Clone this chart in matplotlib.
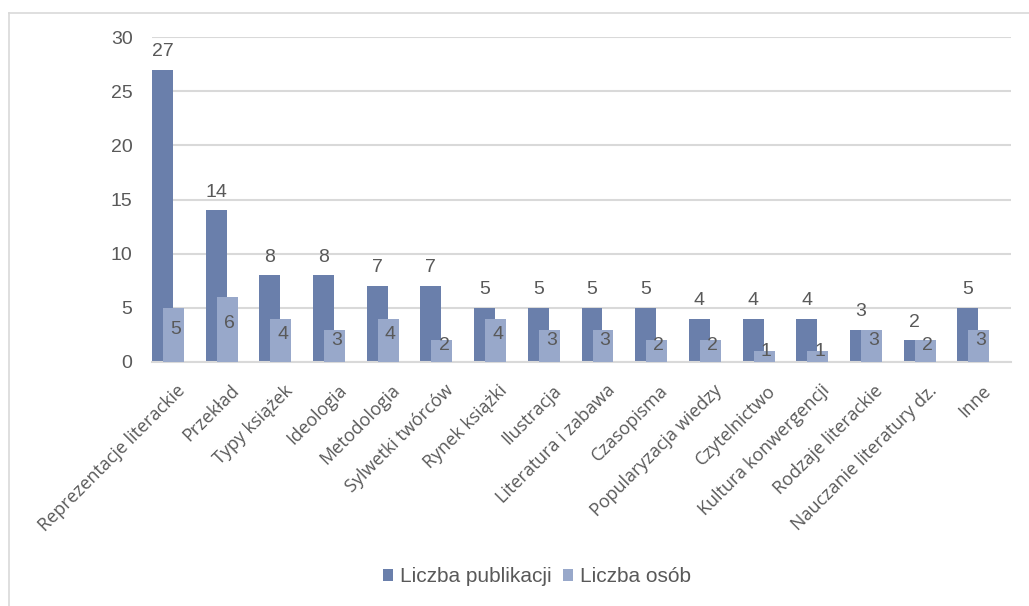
import matplotlib.pyplot as plt
import numpy as np
from matplotlib.lines import Line2D

categories = ['Reprezentacje literackie', 'Przekład', 'Typy książek', 'Ideologia',
              'Metodologia', 'Sylwetki twórców', 'Rynek książki', 'Ilustracja',
              'Literatura i zabawa', 'Czasopisma', 'Popularyzacja wiedzy',
              'Czytelnictwo', 'Kultura konwergencji', 'Rodzaje literackie',
              'Nauczanie literatury dz.', 'Inne']
publikacje = [27, 14, 8, 8, 7, 7, 5, 5, 5, 5, 4, 4, 4, 3, 2, 5]
osoby = [5, 6, 4, 3, 4, 2, 4, 3, 3, 2, 2, 1, 1, 3, 2, 3]

dark = '#6a7fab'
light = '#98a8ca'
txt = '#595959'

fig = plt.figure(figsize=(10.29, 6.06), dpi=100)
ax = fig.add_axes([152 / 1029, 244 / 606, 859 / 1029, 325 / 606])

x = np.arange(len(categories))
w = 0.39
ax.bar(x, publikacje, width=w, align='edge', color=dark, zorder=2,
       label='Liczba publikacji')
ax.bar(x + 0.205, osoby, width=w, align='edge', color=light, zorder=3,
       label='Liczba osób')

# etykiety wartości
for xi, v in zip(x, publikacje):
    ax.annotate(str(v), (xi + w / 2, v), xytext=(0, 7), textcoords='offset points',
                ha='center', va='bottom', fontsize=14, color=txt,
                family='Liberation Sans')
for xi, v in zip(x, osoby):
    ax.annotate(str(v), (xi + 0.205 + w, v / 2), xytext=(-6, 4),
                textcoords='offset points', ha='center', va='center',
                fontsize=14, color=txt, family='Liberation Sans', zorder=4)

ax.set_xlim(0, len(categories))
ax.set_ylim(0, 30)
ax.set_yticks(range(0, 31, 5))
ax.yaxis.grid(True, color='#d9d9d9', linewidth=1.5, zorder=0)
ax.set_axisbelow(True)
for s in ['top', 'right', 'left']:
    ax.spines[s].set_visible(False)
ax.spines['bottom'].set_color('#d9d9d9')
ax.spines['bottom'].set_linewidth(1.5)
ax.tick_params(axis='y', length=0, pad=14, labelsize=14, labelcolor=txt)
for lab in ax.get_yticklabels():
    lab.set_family('Liberation Sans')

ax.set_xticks(x + 0.45)
ax.set_xticklabels(categories, rotation=45, ha='right', rotation_mode='anchor',
                   fontsize=13, color=txt, family='Open Sans')
ax.tick_params(axis='x', length=0, pad=14)

leg = ax.legend(loc='center', bbox_to_anchor=(537 / 1029, 29 / 606),
                bbox_transform=fig.transFigure, ncol=2, frameon=False,
                handlelength=0.5, handleheight=0.5, handletextpad=0.35,
                columnspacing=0.5, prop={'family': 'Liberation Sans', 'size': 15})
for t in leg.get_texts():
    t.set_color(txt)

# obramowanie wykresu
fig.add_artist(Line2D([9 / 1029, 9 / 1029], [0, 1 - 13 / 606],
                      transform=fig.transFigure, color='#d9d9d9', linewidth=1.2))
fig.add_artist(Line2D([9 / 1029, 1], [1 - 13 / 606, 1 - 13 / 606],
                      transform=fig.transFigure, color='#d9d9d9', linewidth=1.2))

fig.savefig('out.png', dpi=100)
